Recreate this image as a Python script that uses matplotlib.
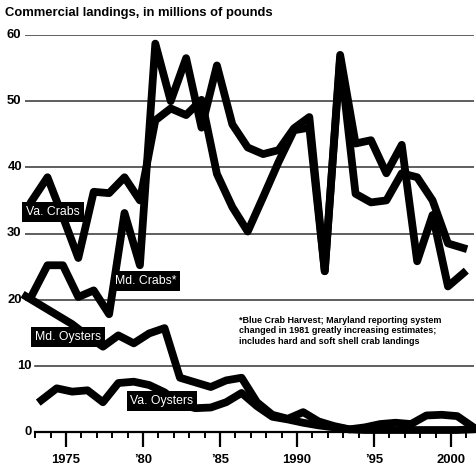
import numpy as np
import matplotlib.pyplot as plt

# commercial landings, millions of pounds
crab_years = list(range(1973, 2002))
md_crabs = [20.7, 25.2, 25.2, 20.4, 21.4, 17.8, 33.1, 25.2, 58.7, 50.0,
            56.5, 46.0, 55.4, 46.5, 43.0, 42.0, 42.6, 45.9, 47.6, 24.3,
            57.0, 43.6, 44.1, 39.1, 43.4, 25.8, 32.8, 22.0, 24.0]
va_crabs = [35.0, 38.5, 32.5, 26.3, 36.3, 36.1, 38.5, 35.0, 47.1, 48.9,
            47.9, 50.2, 39.0, 34.0, 30.3, 35.5, 40.8, 45.6, 46.0, 24.3,
            56.5, 36.0, 34.7, 35.0, 39.1, 38.5, 35.0, 28.5, 27.8]

md_oyster_years = list(range(1972, 2002))
md_oysters = [20.5, 19.1, 17.7, 16.3, 14.5, 12.9, 14.6, 13.4, 14.9, 15.7,
              8.2, 7.5, 6.8, 7.8, 8.2, 4.5, 2.6, 2.0, 3.0, 1.6,
              0.9, 0.4, 0.7, 1.2, 1.4, 1.2, 2.5, 2.6, 2.4, 0.8]
va_oyster_years = list(range(1973, 2002))
va_oysters = [4.8, 6.6, 6.1, 6.3, 4.5, 7.4, 7.6, 7.1, 6.0, 4.2,
              3.6, 3.7, 4.5, 5.9, 3.9, 2.3, 1.9, 1.4, 1.0, 0.7,
              0.4, 0.3, 0.3, 0.3, 0.3, 0.3, 0.3, 0.3, 0.4]

y_ticks = [0, 10, 20, 30, 40, 50, 60]
x_major = [1975, 1980, 1985, 1990, 1995, 2000]
x_labels = ['1975', '\u201980', '\u201985', '1990', '\u201995', '2000']

fnt = ['Liberation Sans', 'DejaVu Sans']
W, H = 476, 467

fig = plt.figure(figsize=(W / 100, H / 100), dpi=100)
ax = fig.add_axes([25 / W, 35 / H, 449 / W, 397 / H])
ax.set_xlim(1972.34, 2001.49)
ax.set_ylim(0, 60)

# gridlines (the 10 line starts further right, as in the print)
for v in y_ticks[1:]:
    start = 0.022 if v == 10 else 0.0
    ax.axhline(v, xmin=start, xmax=1, color='#333333', lw=1.1, zorder=1)

# series: crabs sit just before the year tick, oysters (seasons) just after
lw = 5.6
kw = dict(color='black', lw=lw, solid_joinstyle='round', clip_on=False, zorder=3)
ax.plot(np.array(crab_years) - 0.2, va_crabs, **kw)
ax.plot(np.array(crab_years) - 0.2, md_crabs, **kw)
ax.plot(np.array(md_oyster_years) + 0.4, md_oysters, **kw)
ax.plot(np.array(va_oyster_years) + 0.4, va_oysters, **kw)

for s in ['left', 'right', 'top']:
    ax.spines[s].set_visible(False)
ax.spines['bottom'].set_bounds(1972.99, 2001.49)
ax.spines['bottom'].set_linewidth(1.6)
ax.set_yticks([])
ax.set_xticks(x_major)
ax.set_xticklabels(x_labels, family=fnt, fontsize=9.4, fontweight='bold')
ax.set_xticks(range(1973, 2002), minor=True)
ax.tick_params(axis='x', which='major', length=11, width=1.6, pad=5)
ax.tick_params(axis='x', which='minor', length=4.5, width=1.4)

# y tick labels, set by hand in pixel spots
ylab_right = {60: 21, 50: 21, 40: 22, 30: 21, 20: 22, 10: 32, 0: 32}
for v in y_ticks:
    py = 432 - 6.62 * v
    fig.text(ylab_right[v] / W, 1 - py / H, str(v), ha='right', va='center',
             family=fnt, fontsize=9.4, fontweight='bold')

fig.text(5 / W, 1 - 13 / H, 'Commercial landings, in millions of pounds',
         ha='left', va='center', family=fnt, fontsize=9.4, fontweight='bold')

box = dict(boxstyle='square,pad=0.3', fc='black', ec='none')
for label, px, py in [('Va. Crabs', 53, 212), ('Md. Crabs*', 146, 281),
                      ('Md. Oysters', 68, 337), ('Va. Oysters', 162, 401)]:
    fig.text(px / W, 1 - py / H, label, ha='center', va='center',
             color='white', family=fnt, fontsize=8.8, bbox=box, zorder=5)

fig.text(239 / W, 1 - 316 / H,
         '*Blue Crab Harvest; Maryland reporting system\n'
         'changed in 1981 greatly increasing estimates;\n'
         'includes hard and soft shell crab landings',
         ha='left', va='top', family=fnt, fontsize=6.5, fontweight='bold',
         linespacing=1.2)

fig.savefig('out.png', dpi=100, facecolor='white')
